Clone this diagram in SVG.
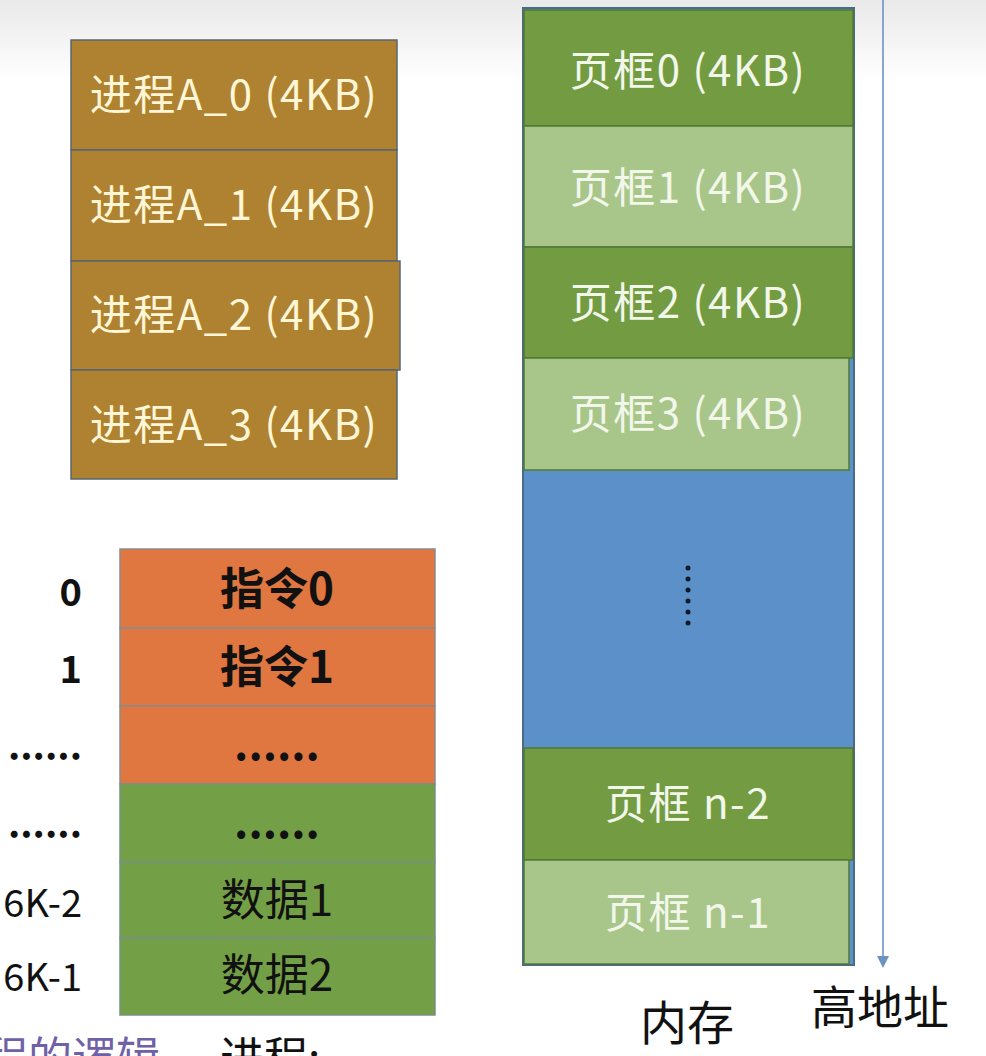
<svg xmlns="http://www.w3.org/2000/svg" width="986" height="1056" viewBox="0 0 986 1056">
<defs>
<linearGradient id="bg" x1="0" y1="0" x2="0" y2="1">
<stop offset="0" stop-color="#e9e9e9"/>
<stop offset="1" stop-color="#ffffff"/>
</linearGradient>
<marker id="arr" markerWidth="12" markerHeight="12" refX="10" refY="6" orient="auto" markerUnits="userSpaceOnUse">
<path d="M0,0 L12,6 L0,12 Z" fill="#6b93c0"/>
</marker>
<style>
.cn{font-family:"Noto Sans CJK SC","Noto Sans",sans-serif;}
.pa{fill:#ae8230;stroke:#5a6470;stroke-width:1.5;}
.pt{fill:#fff6d6;font-size:42px;letter-spacing:1.5px;text-anchor:middle;}
.dk{fill:#739b42;stroke:#4f7a36;stroke-width:1.5;}
.lt{fill:#a8c68a;stroke:#4f7a36;stroke-width:1.5;}
.ft{fill:#f2f7ea;font-size:42px;letter-spacing:1.5px;text-anchor:middle;}
.or{fill:#e07640;stroke:#8a8a8a;stroke-width:1.5;}
.gr{fill:#73a047;stroke:#7a8e86;stroke-width:1.5;}
.it{fill:#111;font-size:44px;text-anchor:middle;}
.lb{fill:#111;font-size:38px;text-anchor:end;}
</style>
</defs>
<rect width="986" height="1056" fill="#ffffff"/>
<rect width="986" height="80" fill="url(#bg)"/>

<g id="process-a">
<g id="a0"><rect class="pa" x="71" y="40" width="326" height="110"/><text class="cn pt" x="234" y="110">进程A_0 (4KB)</text></g>
<g id="a1"><rect class="pa" x="71" y="150" width="326" height="111"/><text class="cn pt" x="234" y="220">进程A_1 (4KB)</text></g>
<g id="a2"><rect class="pa" x="71" y="261" width="329" height="109"/><text class="cn pt" x="234" y="330">进程A_2 (4KB)</text></g>
<g id="a3"><rect class="pa" x="71" y="370" width="326" height="109"/><text class="cn pt" x="234" y="440">进程A_3 (4KB)</text></g>
</g>

<g id="memory">
<rect x="523" y="8" width="331" height="957" fill="#5b90c8" stroke="#4a6a88" stroke-width="2"/>
<g id="f0"><rect class="dk" x="524" y="10" width="329" height="116"/><text class="cn ft" x="688" y="86">页框0 (4KB)</text></g>
<g id="f1"><rect class="lt" x="524" y="126" width="329" height="121"/><text class="cn ft" x="688" y="203">页框1 (4KB)</text></g>
<g id="f2"><rect class="dk" x="524" y="247" width="329" height="111"/><text class="cn ft" x="688" y="318">页框2 (4KB)</text></g>
<g id="f3"><rect class="lt" x="524" y="358" width="325" height="112"/><text class="cn ft" x="688" y="429">页框3 (4KB)</text></g>
<g id="fdots">
<circle cx="688" cy="568" r="2.5" fill="#0d1a2a"/>
<circle cx="688" cy="579" r="2.5" fill="#0d1a2a"/>
<circle cx="688" cy="590" r="2.5" fill="#0d1a2a"/>
<circle cx="688" cy="601" r="2.5" fill="#0d1a2a"/>
<circle cx="688" cy="612" r="2.5" fill="#0d1a2a"/>
<circle cx="688" cy="623" r="2.5" fill="#0d1a2a"/>
</g>
<g id="fn2"><rect class="dk" x="524" y="748" width="329" height="112"/><text class="cn ft" x="688" y="819">页框 n-2</text></g>
<g id="fn1"><rect class="lt" x="524" y="860" width="325" height="104"/><text class="cn ft" x="688" y="928">页框 n-1</text></g>
</g>

<g id="connectors">
<line x1="883" y1="0" x2="883" y2="966" stroke="#6b93c0" stroke-width="1.6" marker-end="url(#arr)"/>
</g>

<g id="logical">
<g id="l0"><rect class="or" x="120" y="549" width="315" height="79"/><text class="cn it" x="277" y="605" font-weight="bold">指令0</text></g>
<g id="l1"><rect class="or" x="120" y="628" width="315" height="78"/><text class="cn it" x="277" y="683" font-weight="bold">指令1</text></g>
<g id="l2"><rect class="or" x="120" y="706" width="315" height="78"/><text class="cn it" x="277" y="760" font-weight="bold" font-size="30">......</text></g>
<g id="l3"><rect class="gr" x="120" y="784" width="315" height="78"/><text class="cn it" x="277" y="838" font-weight="bold" font-size="30">......</text></g>
<g id="l4"><rect class="gr" x="120" y="862" width="315" height="76"/><text class="cn it" x="277" y="916">数据1</text></g>
<g id="l5"><rect class="gr" x="120" y="938" width="315" height="77"/><text class="cn it" x="277" y="991">数据2</text></g>
</g>

<g id="addr-labels">
<text class="cn lb" x="82" y="606" font-weight="bold">0</text>
<text class="cn lb" x="82" y="683" font-weight="bold">1</text>
<text class="cn lb" x="82" y="760" font-weight="bold" font-size="30">......</text>
<text class="cn lb" x="82" y="838" font-weight="bold" font-size="30">......</text>
<text class="cn lb" x="82" y="917">6K-2</text>
<text class="cn lb" x="82" y="991">6K-1</text>
</g>

<g id="captions">
<text class="cn" x="640" y="1040" font-size="47" fill="#111">内存</text>
<text class="cn" x="811" y="1024" font-size="46" fill="#111">高地址</text>
<text class="cn" x="-16" y="1074" font-size="44" fill="#7060a8">程的逻辑</text>
<text class="cn" x="220" y="1074" font-size="44" fill="#111">进程:</text>
</g>
</svg>
